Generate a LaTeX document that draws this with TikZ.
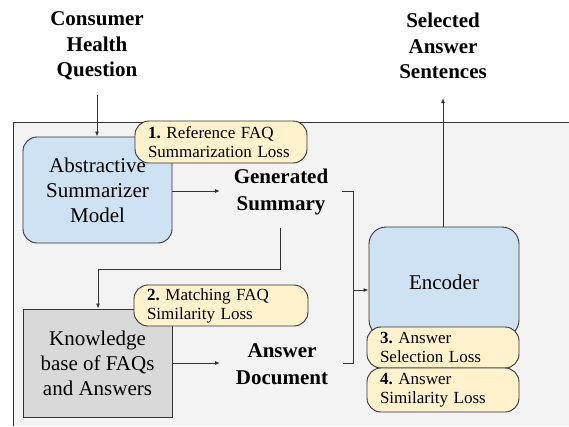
\documentclass[tikz,border=0pt]{standalone}
\usepackage{fontspec}
\setmainfont{Liberation Serif}
\usetikzlibrary{arrows.meta,positioning}
\definecolor{bgc}{HTML}{F3F3F3}
\definecolor{bluec}{HTML}{CFE2F3}
\definecolor{grayc}{HTML}{D9D9D9}
\definecolor{pillc}{HTML}{FFF2CC}
\definecolor{linec}{HTML}{333333}
\tikzset{
  px/.style={x=1pt,y=-1pt},
  conn/.style={draw=linec,line width=0.9pt},
  arr/.style={conn,-{Latex[length=5pt,width=4pt]}},
  bluebox/.style={draw=linec,line width=0.9pt,fill=bluec,rounded corners=14pt,align=center,font=\fontsize{21}{25}\selectfont},
  graybox/.style={draw=linec,line width=0.9pt,fill=grayc,align=center,font=\fontsize{21}{25}\selectfont},
  pill/.style={draw=linec,line width=0.9pt,fill=pillc,rounded corners=14pt,align=left,font=\frenchspacing\fontsize{17}{19}\selectfont,inner xsep=13pt,inner ysep=0pt},
  boldlbl/.style={align=center,font=\bfseries\fontsize{21}{25.5}\selectfont},
}
\begin{document}
\begin{tikzpicture}[px]
\useasboundingbox (0,0) rectangle (569,426);
\fill[bgc] (13,122) rectangle (569,426);
\draw[linec,line width=0.8pt] (13,426) -- (13,122) -- (569,122);

\node[boldlbl] (chq) at (97,46) {Consumer\\Health\\Question};
\node[boldlbl] (sas) at (443,46) {Selected\\Answer\\Sentences};

\node[bluebox,minimum width=149pt,minimum height=106pt] (asm) at (97.5,190) {Abstractive\\Summarizer\\Model};
\node[graybox,minimum width=149pt,minimum height=108pt] (kb) at (97.5,363) {Knowledge\\base of FAQs\\and Answers};
\node[bluebox,rounded corners=17pt,minimum width=150pt,minimum height=110pt] (enc) at (444,282) {Encoder};

\node[boldlbl,font=\bfseries\fontsize{21}{27}\selectfont] (gs) at (281,192) {Generated\\Summary};
\node[boldlbl,font=\bfseries\fontsize{21}{27}\selectfont] (ad) at (282,364) {Answer\\Document};

\node[pill,minimum width=172pt,minimum height=42pt,text width=146pt] (p1) at (221,142) {\textbf{1.} Reference FAQ\\Summarization Loss};
\node[pill,minimum width=174pt,minimum height=41pt,text width=148pt] (p2) at (221,305.5) {\textbf{2.} Matching FAQ\\Similarity Loss};
\node[pill,minimum width=152pt,minimum height=41pt,text width=126pt] (p3) at (443,347.5) {\textbf{3.} Answer\\Selection Loss};
\node[pill,minimum width=152pt,minimum height=44pt,text width=126pt] (p4) at (443,390) {\textbf{4.} Answer\\Similarity Loss};

\coordinate (chqb) at (97,95);
\coordinate (sast) at (443,98);
\draw[arr] (chqb) -- (asm.north -| chqb);
\draw[arr] (asm.east |- 0,191) -- (220,191);
\draw[arr] (kb.east |- 0,363) -- (220,363);
\draw[conn] (342,191) -- (353,191) -- (353,363) -- (343,363);
\draw[arr] (353,290) -- (enc.west |- 0,290);
\draw[arr] (enc.north -| sast) -- (sast);
\draw[arr] (280,228) -- (280,269) -- (98,269) -- (kb.north -| 98,0);
\end{tikzpicture}
\end{document}
